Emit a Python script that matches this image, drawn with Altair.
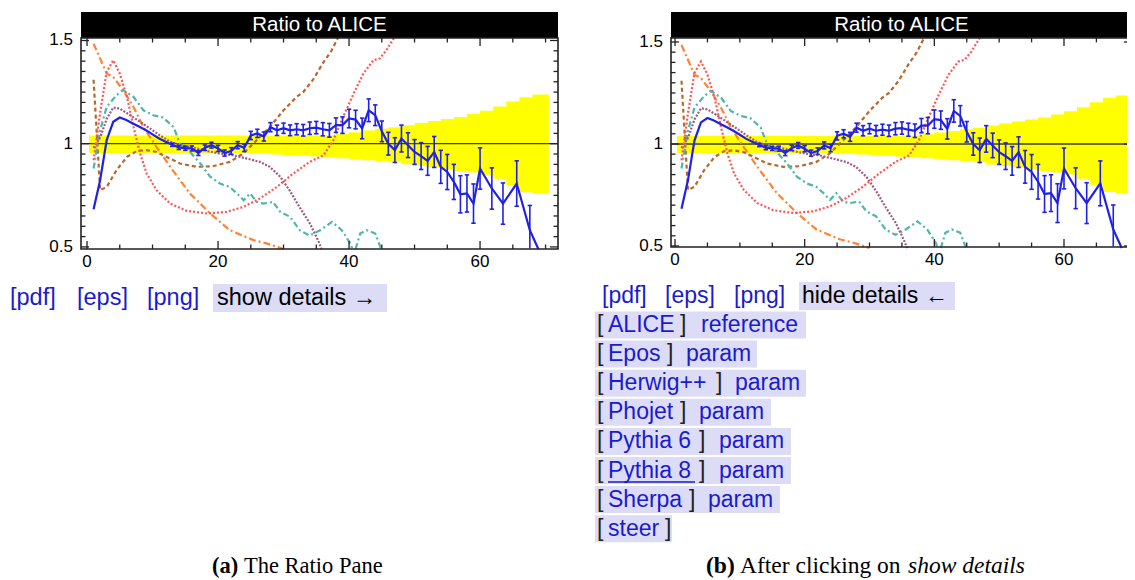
import altair as alt
import numpy as np
import pandas as pd

# ---------------- data ----------------
# MC ratio curve with statistical errors (blue)
blue_x = [1, 2, 3, 4, 5, 6, 7, 8, 9, 10, 11, 12, 13, 14, 15, 16, 17, 18, 19, 20,
          21, 22, 23, 24, 25, 26, 27, 28, 29, 30, 31, 32, 33, 34, 35, 36, 37, 38, 39, 40,
          41, 42, 43, 44, 45, 46, 47, 48, 49, 50, 51, 52, 53, 54, 55, 56, 57, 58, 59, 60,
          61.8, 63.5, 65.6, 67.6, 68.9]
blue_y = [0.683, 0.823, 1.017, 1.106, 1.127, 1.115, 1.098, 1.082, 1.065, 1.045, 1.025, 1.010, 0.995, 0.982, 0.978, 0.977, 0.955, 0.981, 0.993, 0.977,
          0.955, 0.965, 0.993, 0.980, 1.040, 1.050, 1.035, 1.080, 1.065, 1.075, 1.065, 1.070, 1.065, 1.075, 1.078, 1.070, 1.065, 1.090, 1.090, 1.122,
          1.117, 1.074, 1.162, 1.138, 1.060, 1.000, 0.969, 1.025, 0.993, 0.960, 0.940, 0.917, 0.960, 0.888, 0.863, 0.815, 0.755, 0.759, 0.710, 0.880,
          0.783, 0.710, 0.807, 0.581, 0.490]
blue_err = [0, 0, 0, 0, 0, 0, 0, 0, 0, 0, 0, 0, 0.008, 0.010, 0.010, 0.012, 0.012, 0.013, 0.014, 0.015,
            0.015, 0.016, 0.017, 0.018, 0.020, 0.020, 0.022, 0.022, 0.025, 0.025, 0.026, 0.027, 0.028, 0.030, 0.030, 0.032, 0.033, 0.035, 0.040, 0.045,
            0.045, 0.050, 0.055, 0.050, 0.050, 0.055, 0.060, 0.065, 0.060, 0.060, 0.065, 0.070, 0.075, 0.080, 0.085, 0.085, 0.090, 0.090, 0.095, 0.100,
            0.100, 0.100, 0.110, 0.120, 0]

# reference (ALICE) uncertainty band, step edges
band_x = [0.3, 25, 28, 30, 32, 34, 36, 38, 40, 42, 44, 46, 48, 50, 52, 54, 56, 58, 60, 62, 64, 66, 68, 70.5]
band_lo = [0.955, 0.952, 0.948, 0.945, 0.942, 0.938, 0.934, 0.930, 0.925, 0.920, 0.915, 0.910, 0.900, 0.893, 0.885, 0.875, 0.868, 0.860, 0.850, 0.830, 0.800, 0.765, 0.760, 0.760]
band_hi = [1.040, 1.040, 1.040, 1.040, 1.040, 1.040, 1.040, 1.048, 1.056, 1.064, 1.072, 1.080, 1.090, 1.100, 1.110, 1.120, 1.130, 1.145, 1.160, 1.180, 1.205, 1.225, 1.238, 1.238]

red_x = [1.0, 2.0, 3.0, 4.0, 5.0, 6.1, 7.1, 8.1, 9.1, 10.6, 12.7, 15.2, 18.3, 21.3, 23.9, 26.4, 29.0, 31.5, 34.0, 36.1, 37.6, 39.1, 40.7, 42.2, 43.7, 44.7, 45.7, 47.6]
red_y = [0.92, 1.15, 1.348, 1.404, 1.34, 1.227, 1.081, 0.952, 0.856, 0.775, 0.71, 0.675, 0.662, 0.67, 0.694, 0.735, 0.791, 0.856, 0.912, 0.944, 1.017, 1.13, 1.243, 1.34, 1.404, 1.413, 1.453, 1.55]

brown_x = [1.0, 2.0, 3.0, 4.5, 6.1, 7.6, 9.1, 10.6, 12.7, 14.2, 16.7, 19.2, 21.8, 23.8, 25.9, 27.9, 30.0, 32.0, 33.0, 34.5, 36.0, 37.3, 38.9]
brown_y = [1.31, 0.775, 0.79, 0.872, 0.936, 0.965, 0.969, 0.96, 0.928, 0.904, 0.888, 0.891, 0.912, 0.952, 1.017, 1.081, 1.162, 1.227, 1.25, 1.31, 1.39, 1.45, 1.55]

orange_x = [1.0, 3.0, 4.0, 5.5, 7.1, 8.6, 10.6, 12.7, 15.7, 18.8, 21.8, 25.4, 27.4, 30.0]
orange_y = [1.485, 1.34, 1.323, 1.26, 1.178, 1.081, 0.985, 0.888, 0.759, 0.662, 0.581, 0.533, 0.517, 0.49]

teal_x = [1.0, 2.0, 3.0, 4.5, 5.5, 7.1, 8.6, 10.1, 11.6, 13.2, 14.2, 15.7, 17.3, 18.8, 20.3, 21.8, 22.9, 23.9, 24.9, 25.9,
          26.9, 28.4, 29.5, 31.0, 32.5, 34.0, 35.6, 37.4, 38.9, 40.2, 40.5]
teal_y = [0.88, 1.065, 1.178, 1.235, 1.26, 1.227, 1.162, 1.138, 1.127, 1.081, 1.0, 0.96, 0.904, 0.84, 0.807, 0.79, 0.759, 0.726, 0.759, 0.718,
          0.71, 0.718, 0.67, 0.646, 0.58, 0.555, 0.581, 0.621, 0.581, 0.517, 0.49]
teal2_x = [41.0, 41.7, 42.7, 44.0, 44.9]
teal2_y = [0.49, 0.565, 0.581, 0.565, 0.49]

purple_x = [1.0, 2.0, 3.0, 4.0, 5.0, 6.6, 8.1, 9.6, 11.1, 12.7, 14.2, 16.2, 18.3, 20.3, 22.3, 24.4, 26.4, 27.9, 29.5, 31.0, 32.5, 34.0, 35.3, 35.8]
purple_y = [0.98, 1.03, 1.12, 1.175, 1.17, 1.138, 1.106, 1.074, 1.041, 1.009, 0.993, 0.981, 0.965, 0.952, 0.944, 0.928, 0.912, 0.888, 0.84, 0.77, 0.69, 0.615, 0.53, 0.49]

# axis tick labels
x_tick_values = [0, 20, 40, 60]
x_tick_labels = ["0", "20", "40", "60"]
y_tick_values = [0.5, 1.0, 1.5]
y_tick_labels = ["0.5", "1", "1.5"]

# texts
plot_title = "Ratio to ALICE"
link_labels = ["[pdf]", "[eps]", "[png]"]
toggle_a = "show details \u2192"
toggle_b = "hide details \u2190"
gen_names = ["ALICE", "Epos", "Herwig++", "Phojet", "Pythia 6", "Pythia 8", "Sherpa", "steer"]
gen_kinds = ["reference", "param", "param", "param", "param", "param", "param", ""]
caption_a = ["(a)", "The Ratio Pane"]
caption_b = ["(b)", "After clicking on", "show details"]

# ---------------- styles / layout ----------------
FONT = "Liberation Sans"
SERIF = "Liberation Serif"
W, H = 1119, 572
BLUE = "#2121e6"
LINK = "#1a1ad2"
LAV = "#dcdcf7"

curve_styles = [
    (orange_x, orange_y, "#ff8236", [7, 3, 2, 3]),
    (brown_x, brown_y, "#b8682c", [4, 3]),
    (teal_x, teal_y, "#4fb5ad", [6, 3, 2, 3]),
    (teal2_x, teal2_y, "#4fb5ad", [6, 3, 2, 3]),
    (purple_x, purple_y, "#9c5a84", [2, 1.5]),
    (red_x, red_y, "#ff5555", [2, 2]),
]


def make_panel(xdom, xrng, ydom, yrng, ytop, bar_xmax):
    xmin, xmax = xdom
    ymin, ytitle = ydom
    xs = alt.Scale(domain=list(xdom), range=list(xrng), nice=False, zero=False)
    ys = alt.Scale(domain=list(ydom), range=list(yrng), nice=False, zero=False)
    kx = (xrng[1] - xrng[0]) / (xdom[1] - xdom[0])
    ky = (yrng[0] - yrng[1]) / (ydom[1] - ydom[0])

    def X(f):
        return alt.X(f, type="quantitative", scale=xs, axis=None)

    def Y(f):
        return alt.Y(f, type="quantitative", scale=ys, axis=None)

    layers = []
    band = pd.DataFrame({"x": band_x, "lo": band_lo, "hi": band_hi})
    layers.append(
        alt.Chart(band).mark_area(interpolate="step-after", color="#ffff00", opacity=1).encode(
            x=X("x"), y=Y("lo"), y2="hi:Q"))
    one = pd.DataFrame({"x": [xmin], "x2": [xmax], "y": [1.0]})
    layers.append(alt.Chart(one).mark_rule(color="#3a3a3a", strokeWidth=1.3).encode(
        x=X("x"), x2="x2:Q", y=Y("y")))

    for cx, cy, col, dash in curve_styles:
        d = pd.DataFrame({"x": cx, "y": cy})
        layers.append(alt.Chart(d).mark_line(color=col, strokeDash=dash, strokeWidth=2.2).encode(
            x=X("x"), y=Y("y"), order="x:Q"))

    bd = pd.DataFrame({"x": blue_x, "y": blue_y, "e": blue_err})
    eb = bd[bd.e > 0].copy()
    eb["lo"] = np.maximum(eb.y - eb.e, ymin + 0.003)
    eb["hi"] = eb.y + eb.e
    layers.append(alt.Chart(eb).mark_rule(color=BLUE, strokeWidth=1.6).encode(
        x=X("x"), y=Y("lo"), y2="hi:Q"))
    caps = pd.concat([
        pd.DataFrame({"x": eb.x - 2.2 / kx, "x2": eb.x + 2.2 / kx, "y": eb.hi}),
        pd.DataFrame({"x": eb.x - 2.2 / kx, "x2": eb.x + 2.2 / kx, "y": eb.lo[eb.lo > ymin + 0.01]}),
    ]).dropna()
    layers.append(alt.Chart(caps).mark_rule(color=BLUE, strokeWidth=1.6).encode(
        x=X("x"), x2="x2:Q", y=Y("y")))
    layers.append(alt.Chart(bd).mark_line(color=BLUE, strokeWidth=2.2).encode(
        x=X("x"), y=Y("y"), order="x:Q"))

    # title bar
    bar = pd.DataFrame({"x": [xmin], "x2": [bar_xmax], "y": [ytop], "y2": [ytitle]})
    layers.append(alt.Chart(bar).mark_rect(color="black").encode(
        x=X("x"), x2="x2:Q", y=Y("y"), y2="y2:Q"))
    tt = pd.DataFrame({"x": [(xmin + xmax) / 2], "y": [(ytop + ytitle) / 2], "t": [plot_title]})
    layers.append(alt.Chart(tt).mark_text(color="white", font=FONT, fontSize=20.5, baseline="middle").encode(
        x=X("x"), y=Y("y"), text="t:N"))

    # frame ticks (inside, on all four sides)
    rows = []
    for v in np.round(np.arange(0.5, 1.5001, 0.05), 2):
        L = 8 if v in (0.5, 1.0, 1.5) else 4.5
        rows.append((xmin, xmin + L / kx, v, v))
        rows.append((xmax - L / kx, xmax, v, v))
    for v in np.arange(0, xmax, 5):
        L = 8 if v % 20 == 0 else 4.5
        rows.append((v, v, ymin, ymin + L / ky))
        rows.append((v, v, ytop - L / ky, ytop))
    tk = pd.DataFrame(rows, columns=["x", "x2", "y", "y2"])
    layers.append(alt.Chart(tk).mark_rule(color="#222", strokeWidth=1.3).encode(
        x=X("x"), x2="x2:Q", y=Y("y"), y2="y2:Q"))

    fr = pd.DataFrame({"x": [xmin], "x2": [xmax], "y": [ymin], "y2": [ytop]})
    layers.append(alt.Chart(fr).mark_rect(fillOpacity=0, stroke="#222", strokeWidth=1.6).encode(
        x=X("x"), x2="x2:Q", y=Y("y"), y2="y2:Q"))

    # tick labels
    xl = pd.DataFrame({"x": x_tick_values, "y": [ymin] * len(x_tick_values), "t": x_tick_labels})
    layers.append(alt.Chart(xl).mark_text(font=FONT, fontSize=17, color="black", align="center",
                                          baseline="top", dy=5).encode(
        x=X("x"), y=Y("y"), text="t:N"))
    yl = pd.DataFrame({"x": [xmin] * len(y_tick_values), "y": y_tick_values, "t": y_tick_labels})
    layers.append(alt.Chart(yl).mark_text(font=FONT, fontSize=17, color="black", align="right",
                                          baseline="middle", dx=-8).encode(
        x=X("x"), y=Y("y"), text="t:N"))
    return alt.layer(*layers)


panel_a = make_panel((-0.92, 71.9), (73, 550), (0.490, 1.638), (241, 4), 1.512, 71.9)
panel_b = make_panel((-0.62, 70.49), (663, 1124), (0.495, 1.647), (239, 4), 1.52, 71.5)

# ---------------- annotations in page coordinates ----------------
px = alt.Scale(domain=[8, 8 + W], range=[0, W], nice=False, zero=False)
py = alt.Scale(domain=[8, 8 + H], range=[0, H], nice=False, zero=False)

boxes = [(213, 387, 284, 312), (799, 955, 282, 310)]
row_c = [325 + 29.1 * i for i in range(8)]
row_box_end = [806, 757, 806, 771, 791, 791, 780, 672]
for c, e in zip(row_c, row_box_end):
    boxes.append((595, e, c - 13.5, c + 13.5))
box_df = pd.DataFrame(boxes, columns=["x", "x2", "y", "y2"])

texts = []  # x, y, text, color, size, font, weight, style, baseline
for lbl, xx in zip(link_labels, [10, 77, 147]):
    texts.append((xx, 298, lbl, LINK, 23.5, FONT, "normal", "normal", "middle"))
texts.append((217, 298, toggle_a, "black", 23.5, FONT, "normal", "normal", "middle"))
for lbl, xx in zip(link_labels, [602, 665, 734]):
    texts.append((xx, 296, lbl, LINK, 23, FONT, "normal", "normal", "middle"))
texts.append((802, 296, toggle_b, "black", 23, FONT, "normal", "normal", "middle"))
close_x = [680, 667, 716, 680, 699, 699, 689, 665]
kind_x = [701, 686, 735, 699, 719, 719, 708, 0]
for name, kind, c, cx_, kx_ in zip(gen_names, gen_kinds, row_c, close_x, kind_x):
    texts.append((597, c, "[", "#222", 23, FONT, "normal", "normal", "middle"))
    texts.append((608, c, name, LINK, 23, FONT, "normal", "normal", "middle"))
    texts.append((cx_, c, "]", "#222", 23, FONT, "normal", "normal", "middle"))
    if kind:
        texts.append((kx_, c, kind, LINK, 23, FONT, "normal", "normal", "middle"))
CB = 573  # caption baseline
texts.append((212, CB, caption_a[0], "black", 22.5, SERIF, "bold", "normal", "alphabetic"))
texts.append((244, CB, caption_a[1], "black", 22.5, SERIF, "normal", "normal", "alphabetic"))
texts.append((706, CB, caption_b[0], "black", 23.5, SERIF, "bold", "normal", "alphabetic"))
texts.append((740, CB, caption_b[1], "black", 23.5, SERIF, "normal", "normal", "alphabetic"))
texts.append((908, CB, caption_b[2], "black", 23.5, SERIF, "normal", "italic", "alphabetic"))
tdf = pd.DataFrame(texts, columns=["x", "y", "t", "col", "size", "font", "weight", "style", "base"])

annot_layers = [
    alt.Chart(box_df).mark_rect(color=LAV).encode(
        x=alt.X("x:Q", scale=px, axis=None), x2="x2:Q",
        y=alt.Y("y:Q", scale=py, axis=None), y2="y2:Q"),
]
for (col, size, font, weight, style, base), g in tdf.groupby(["col", "size", "font", "weight", "style", "base"]):
    annot_layers.append(
        alt.Chart(g).mark_text(align="left", baseline=base, color=col, fontSize=size, font=font,
                               fontWeight=weight, fontStyle=style).encode(
            x=alt.X("x:Q", scale=px, axis=None), y=alt.Y("y:Q", scale=py, axis=None), text="t:N"))
ul = pd.DataFrame({"x": [608], "x2": [695], "y": [482]})
annot_layers.append(alt.Chart(ul).mark_rule(color=LINK, strokeWidth=1.5).encode(
    x=alt.X("x:Q", scale=px, axis=None), x2="x2:Q", y=alt.Y("y:Q", scale=py, axis=None)))
annot = alt.layer(*annot_layers)

chart = alt.layer(panel_a, panel_b, annot).resolve_scale(x="independent", y="independent").properties(
    width=W, height=H, padding=0, autosize=alt.AutoSizeParams(type="none"), background="white"
).configure_view(stroke=None)

chart.save("out.html", embed_options={"renderer": "svg", "actions": False})
